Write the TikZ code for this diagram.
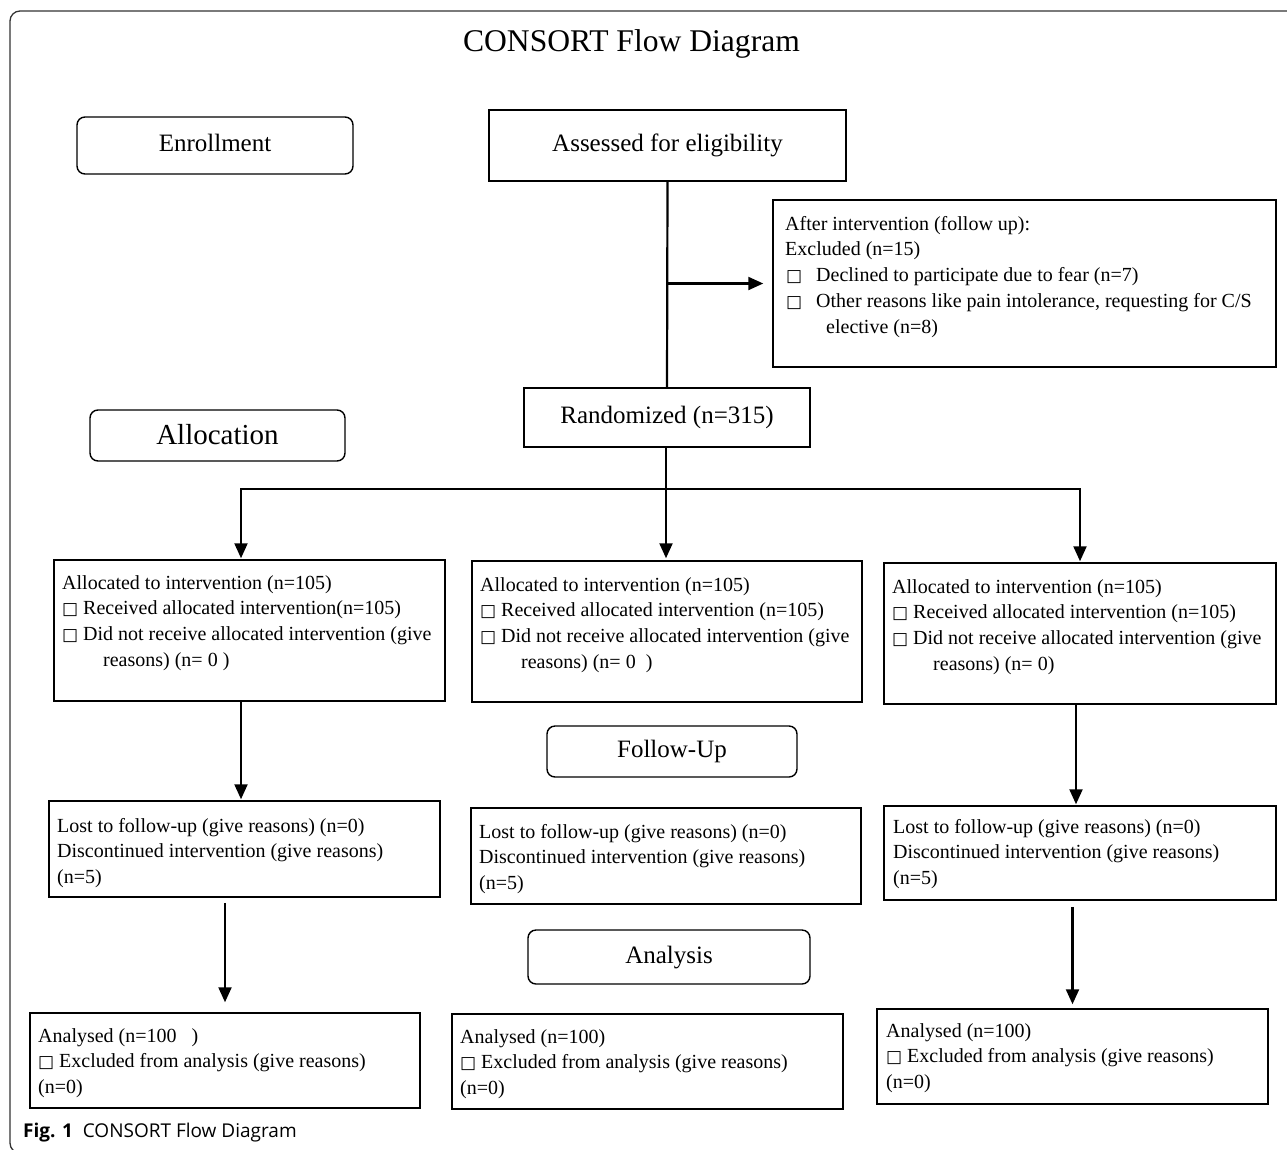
\documentclass[tikz,border=0pt]{standalone}
\usepackage{fontspec}
\setmainfont{Liberation Serif}
\newfontfamily\dejavu{DejaVu Sans}
\newfontfamily\capfont{Open Sans}
\usetikzlibrary{arrows.meta}
\newcommand\bxa{\makebox[21pt][l]{\dejavu\fontsize{17}{17}\selectfont □}}
\newcommand\bxb{\makebox[31pt][l]{\hspace{1pt}\dejavu\fontsize{17}{17}\selectfont □}}
\newcommand\contind{\hspace*{41pt}}
\begin{document}
\begin{tikzpicture}[x=1pt,y=-1pt,
  box/.style={draw, line width=1.5pt, inner sep=0pt},
  rbox/.style={draw, line width=1.4pt, rounded corners=8pt, inner sep=0pt},
  txt/.style={align=left, anchor=north west, inner sep=0pt, font=\fontsize{20}{25.7}\selectfont},
  lbl/.style={font=\fontsize{25}{30}\selectfont, text height=17pt, text depth=5pt},
  arr/.style={line width=2.2pt, -{Triangle[width=13pt,length=15pt]}},
  ln/.style={line width=2.2pt}]
\useasboundingbox (0,0) rectangle (1287,1149);
\clip (0,0) rectangle (1287,1149);
% outer frame
\draw[line width=1.3pt, black!80, rounded corners=10pt] (10,11) rectangle (1330,1153);
% title
\node[anchor=base, inner sep=0pt, font=\fontsize{31.6}{36}\selectfont] (title) at (631.5,51) {CONSORT Flow Diagram};
% stage labels
\node[rbox, lbl, minimum width=276pt, minimum height=57pt] (enroll) at (215,145.5) {Enrollment};
\node[rbox, font=\fontsize{29}{34}\selectfont, text height=24pt, text depth=6pt, minimum width=255pt, minimum height=51pt] (allocation) at (217.5,435.5) {Allocation};
\node[rbox, lbl, minimum width=250pt, minimum height=51pt] (follow) at (672,751.5) {Follow-Up};
\node[rbox, lbl, minimum width=282pt, minimum height=54pt] (analysis) at (669,957) {Analysis};
% main boxes
\node[box, lbl, minimum width=357pt, minimum height=71pt] (assess) at (667.5,145.5) {Assessed for eligibility};
\node[box, minimum width=503pt, minimum height=167pt] (excl) at (1024.5,283.5) {};
\node[box, lbl, minimum width=286pt, minimum height=59pt] (rand) at (667,417.5) {Randomized (n=315)};
\node[box, minimum width=391pt, minimum height=141pt] (allocL) at (249.5,630.5) {};
\node[box, minimum width=390pt, minimum height=141pt] (allocM) at (667,631.5) {};
\node[box, minimum width=392pt, minimum height=141pt] (allocR) at (1080,633.5) {};
\node[box, minimum width=391pt, minimum height=96pt] (lostL) at (244.5,849) {};
\node[box, minimum width=390pt, minimum height=96pt] (lostM) at (666,856) {};
\node[box, minimum width=392pt, minimum height=94pt] (lostR) at (1080,853) {};
\node[box, minimum width=390pt, minimum height=95pt] (anL) at (225,1060.5) {};
\node[box, minimum width=391pt, minimum height=95pt] (anM) at (647.5,1061.5) {};
\node[box, minimum width=391pt, minimum height=95pt] (anR) at (1072.5,1056.5) {};
% texts
\node[txt] (tExcl) at (785,216) {After intervention (follow up):\\
Excluded (n=15)\\
\bxb Declined to participate due to fear (n=7)\\
\bxb Other reasons like pain intolerance, requesting for C/S\\
\contind elective (n=8)};
\node[txt] (tAllocL) at (62,575) {Allocated to intervention (n=105)\\
\bxa Received allocated intervention(n=105)\\
\bxa Did not receive allocated intervention (give\\
\contind reasons) (n= 0 )};
\node[txt] (tAllocM) at (480,577) {Allocated to intervention (n=105)\\
\bxa Received allocated intervention (n=105)\\
\bxa Did not receive allocated intervention (give\\
\contind reasons) (n= 0 \ )};
\node[txt] (tAllocR) at (892,579) {Allocated to intervention (n=105)\\
\bxa Received allocated intervention (n=105)\\
\bxa Did not receive allocated intervention (give\\
\contind reasons) (n= 0)};
\node[txt] (tLostL) at (57,818) {Lost to follow-up (give reasons) (n=0)\\
Discontinued intervention (give reasons)\\
(n=5)};
\node[txt] (tLostM) at (479,824) {Lost to follow-up (give reasons) (n=0)\\
Discontinued intervention (give reasons)\\
(n=5)};
\node[txt] (tLostR) at (893,819) {Lost to follow-up (give reasons) (n=0)\\
Discontinued intervention (give reasons)\\
(n=5)};
\node[txt] (tAnL) at (38,1028) {Analysed (n=100 \ \ )\\
\bxa Excluded from analysis (give reasons)\\
(n=0)};
\node[txt] (tAnM) at (460,1029) {Analysed (n=100)\\
\bxa Excluded from analysis (give reasons)\\
(n=0)};
\node[txt] (tAnR) at (886,1023) {Analysed (n=100)\\
\bxa Excluded from analysis (give reasons)\\
(n=0)};
% caption
\node[anchor=base west, inner sep=0pt, font=\capfont\fontsize{19}{22}\selectfont] (cap) at (23,1137) {\textbf{Fig. 1}\ \ CONSORT Flow Diagram};
% connectors
\coordinate (jL) at (241,489);
\coordinate (jC) at (666,489);
\coordinate (jR) at (1080,489);
\draw[ln] (assess.south) -- (rand.north);
\draw[arr, shorten >=9pt] (assess.south |- excl.west) -- (excl.west);
\draw[arr, shorten >=1pt] (jC) -| (jL |- allocL.north);
\draw[arr, shorten >=1pt] (jC) -| (jR |- allocR.north);
\draw[arr, shorten >=2pt] (rand.south -| jC) -- (jC |- allocM.north);
\draw[arr, shorten >=1pt] (allocL.south -| jL) -- (lostL.north -| jL);
\draw[arr, shorten >=1pt] ([xshift=-4pt]allocR.south) -- ([xshift=-4pt]allocR.south |- lostR.north);
\draw[arr] ([yshift=-5pt]lostL.south -| anL.north) -- ([yshift=10pt]anL.north);
\draw[arr] ([yshift=-6pt]lostR.south -| anR.north) -- ([yshift=4pt]anR.north);
\end{tikzpicture}
\end{document}
